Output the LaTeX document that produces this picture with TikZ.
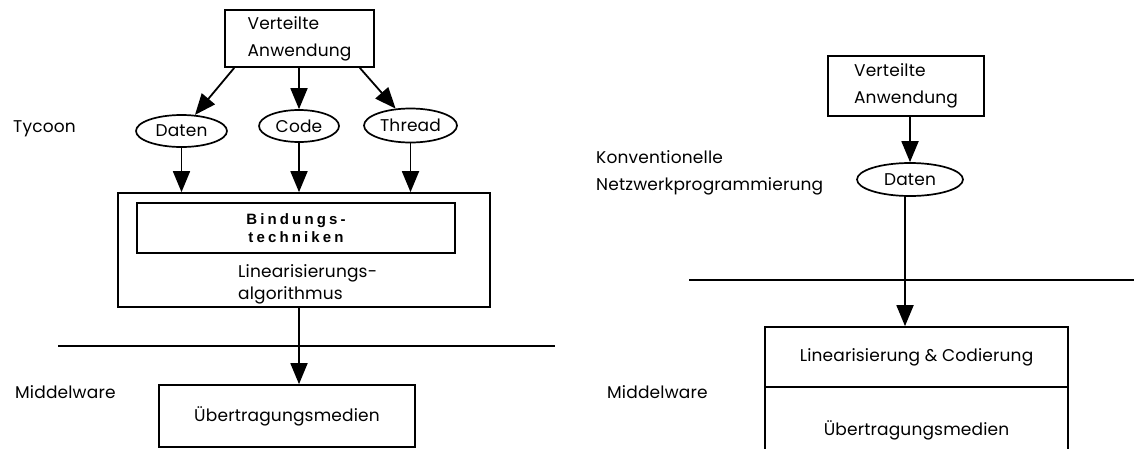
\documentclass[tikz,border=0pt]{standalone}
\usepackage{fontspec}
\setmainfont{Poppins}[LetterSpace=1]
\newfontfamily\heavysans[LetterSpace=21]{Liberation Sans}
\usetikzlibrary{shapes.geometric,arrows.meta,calc}
\begin{document}
\begin{tikzpicture}[x=1pt,y=-1pt,
  every node/.style={font=\fontsize{17}{27}\selectfont},
  box/.style={draw,line width=1.7pt,inner sep=0pt,align=left},
  oval/.style={draw,ellipse,line width=1.7pt,inner sep=0pt},
  label/.style={anchor=west,align=left,inner sep=0pt},
  flow/.style={line width=1.8pt,-{Triangle[length=21pt,width=17pt]}},
  rule/.style={line width=1.8pt}]
\useasboundingbox (0,0) rectangle (1134,448);

% ---------- Tycoon ----------
\node[box,minimum width=149pt,minimum height=57pt] (va1) at (299.5,38.5) {Verteilte\\Anwendung};
\node[oval,minimum width=91pt,minimum height=32pt] (da1) at (181.5,131) {Daten};
\node[oval,minimum width=80pt,minimum height=32pt] (co1) at (299,126) {Code};
\node[oval,minimum width=93pt,minimum height=34pt] (th1) at (410.5,125.5) {Thread};
\node[box,minimum width=372pt,minimum height=114pt] (lin1) at (304,250) {};
\node[box,minimum width=318pt,minimum height=50pt,align=center,
      font={\heavysans\bfseries\fontsize{15}{18}\selectfont}] (bt1) at (296,228) {Bindungs-\\techniken};
\node[label,font=\fontsize{17}{22}\selectfont] (lt1) at (238,284) {Linearisierungs-\\algorithmus};
\node[box,minimum width=256pt,minimum height=62pt,align=center] (ue1) at (287,416) {Übertragungsmedien};
\node[label] (ty) at (13,129) {Tycoon};
\node[label] (mw1) at (15,392) {Middelware};
\coordinate (r1a) at (58,346);
\coordinate (r1b) at (555,346);
\draw[rule] (r1a) -- (r1b);

\draw[flow] ($(va1.south west)!0.067!(va1.south east)$) -- (da1);
\draw[flow] (va1.south -| co1.north) -- (co1.north);
\draw[flow] ($(va1.south west)!0.9!(va1.south east)$) -- (th1);
\draw[flow] (da1.south) -- (da1.south |- lin1.north);
\draw[flow] (co1.south) -- (co1.south |- lin1.north);
\draw[flow] (th1.south) -- (th1.south |- lin1.north);
\draw[flow] (co1 |- lin1.south) -- (co1 |- ue1.north);

% ---------- conventional network programming ----------
\node[box,minimum width=156pt,minimum height=60pt] (va2) at (906,86) {Verteilte\\Anwendung};
\node[oval,minimum width=106pt,minimum height=33pt] (da2) at (910,179.5) {Daten};
\node[box,minimum width=303pt,minimum height=60pt,align=center] (lc2) at (916.5,357) {Linearisierung \& Codierung};
\node[box,minimum width=303pt,minimum height=86pt,align=center] (ue2) at (916.5,430) {Übertragungsmedien};
\node[label] (kn) at (596,172.5) {Konventionelle\\Netzwerkprogrammierung};
\node[label] (mw2) at (607,392) {Middelware};
\coordinate (r2a) at (689,280);
\coordinate (r2b) at (1140,280);
\draw[rule] (r2a) -- (r2b);

\draw[flow] (da2 |- va2.south) -- (da2.north);
\draw[flow] ([xshift=-5pt]da2.south) -- ([xshift=-5pt]da2.south |- lc2.north);
\end{tikzpicture}
\end{document}
